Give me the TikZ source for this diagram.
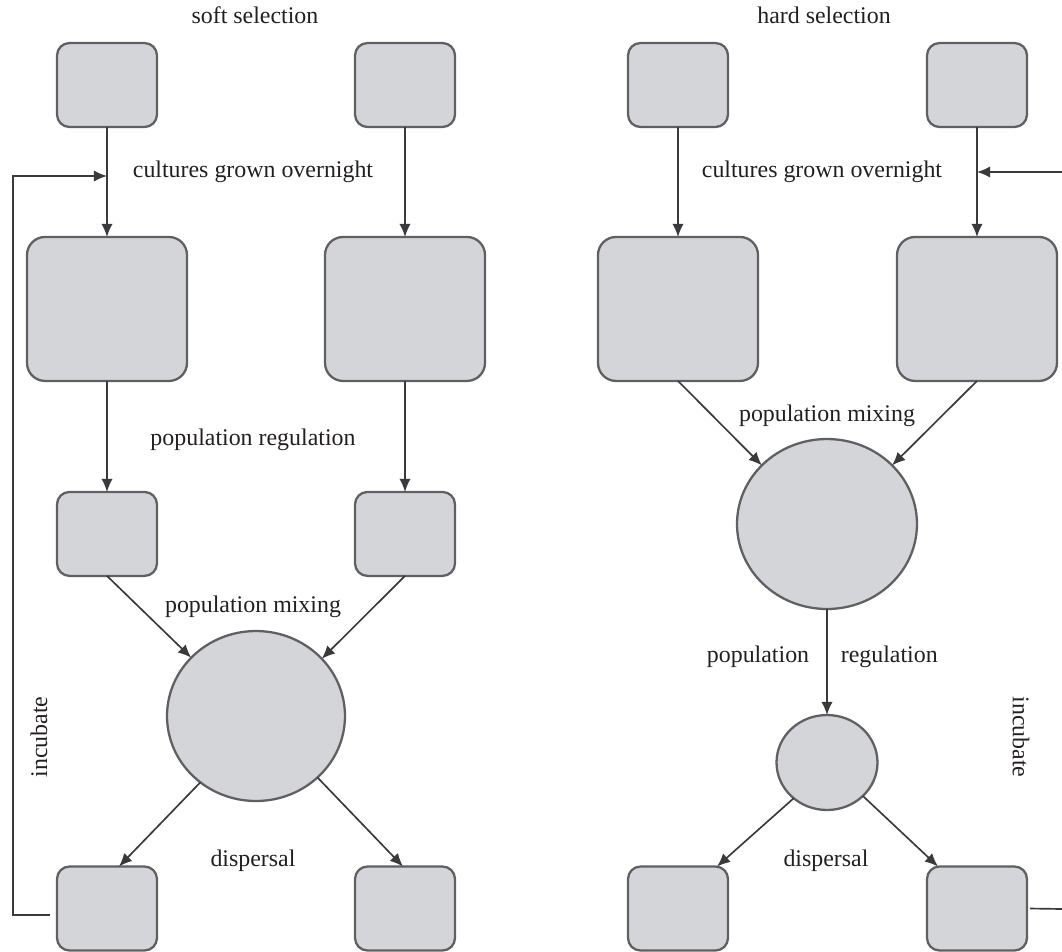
\documentclass[tikz,border=0pt]{standalone}
\usepackage{fontspec}
\setmainfont{Liberation Serif}
\usetikzlibrary{positioning}
\usetikzlibrary{arrows.meta}
\usetikzlibrary{shapes.geometric,calc}
\definecolor{cellgray}{RGB}{212,213,216}
\definecolor{rimgray}{RGB}{96,96,98}
\definecolor{flowgray}{RGB}{58,58,60}
\definecolor{inkgray}{RGB}{35,31,32}

\begin{document}
\begin{tikzpicture}[x=0.02cm,y=-0.02cm,every node/.style={outer sep=0pt},
 font=\fontsize{13.6}{16}\selectfont,
 tube/.style={draw=rimgray,fill=cellgray,line width=1.3pt,rounded corners=0.25cm,
 minimum width=2cm,minimum height=1.68cm},
 flask/.style={tube,rounded corners=0.36cm,minimum width=3.2cm,minimum height=2.88cm},
 pool/.style={ellipse,draw=rimgray,fill=cellgray,line width=1.3pt,inner sep=0pt},
 flow/.style={draw=flowgray,line width=0.95pt,-{Latex[length=7.5pt,width=6.5pt]}},
 link/.style={draw=flowgray,line width=0.95pt},
 lbl/.style={text=inkgray,anchor=base}]

  \useasboundingbox (0,0) rectangle (1062,951);

  % soft selection
  \node[lbl] (softT) at (255,23) {soft selection};
  \node[tube] (a1) at (107,85) {};
  \node[tube] (a2) at (405,85) {};
  \node[flask,below=2.2cm of a1] (b1) {};
  \node[flask,below=2.2cm of a2] (b2) {};
  \node[tube,below=2.22cm of b1] (c1) {};
  \node[tube,below=2.22cm of b2] (c2) {};
  \node[pool,minimum width=3.56cm,minimum height=3.4cm] (mixL) at (256,716) {};
  \node[tube] (d1) at (107,908.5) {};
  \node[tube] (d2) at (405,908.5) {};

  \node[lbl] (grownL) at (253,177) {cultures grown overnight};
  \node[lbl] (regL) at (253,445) {population regulation};
  \node[lbl] (mixtxtL) at (253,612) {population mixing};
  \node[lbl] (dispL) at (253,866) {dispersal};
  \node[text=inkgray,rotate=90] (incL) at (39,737) {incubate};

  \draw[flow] (a1) -- (b1);
  \draw[flow] (a2) -- (b2);
  \draw[flow] (b1) -- (c1);
  \draw[flow] (b2) -- (c2);
  \draw[flow] (c1.south) -- (mixL.138);
  \draw[flow] (c2.south) -- (mixL.41);
  \draw[flow] (mixL.230) -- ([xshift=0.24cm]d1.north);
  \draw[flow] (mixL.-45) -- ([xshift=-0.04cm]d2.north);

  \coordinate (cornerL) at (13,176);
  \draw[flow] ([xshift=-0.14cm,yshift=-0.13cm]d1.west) -| (cornerL) -- (cornerL-|a1);

  % hard selection
  \node[lbl] (hardT) at (824,23) {hard selection};
  \node[tube] (e1) at (678,85) {};
  \node[tube] (e2) at (977,85) {};
  \node[flask,below=2.2cm of e1] (f1) {};
  \node[flask,below=2.2cm of e2] (f2) {};
  \node[pool,minimum width=3.6cm,minimum height=3.4cm] (mixR) at (827,524) {};
  \node[pool,minimum width=2.02cm,minimum height=1.9cm] (regR) at (827,762.5) {};
  \node[tube] (g1) at (678,908.5) {};
  \node[tube] (g2) at (977,908.5) {};

  \node[lbl] (grownR) at (822,177) {cultures grown overnight};
  \node[lbl] (mixtxtR) at (827,421) {population mixing};
  \node[lbl,anchor=base east] (popR) at (815,662) {population};
  \node[lbl,anchor=base west] (regtxtR) at (835,662) {regulation};
  \node[lbl] (dispR) at (826,866) {dispersal};
  \node[text=inkgray,rotate=-90] (incR) at (1021,737) {incubate};

  \draw[flow] (e1) -- (f1);
  \draw[flow] (e2) -- (f2);
  \draw[flow] (f1.south) -- (mixR.138);
  \draw[flow] (f2.south) -- (mixR.42);
  \draw[flow] (mixR) -- (regR);
  \draw[flow] (regR.227) -- ([xshift=0.78cm]g1.north);
  \draw[flow] (regR.-43) -- ([xshift=-0.78cm]g2.north);

  \coordinate (outR) at (1062,909);
  \coordinate (backR) at (1062,172);
  \draw[link] ([xshift=0.06cm]g2.east) -- (outR);
  \draw[flow] (backR) -- (backR-|e2);

\end{tikzpicture}
\end{document}
